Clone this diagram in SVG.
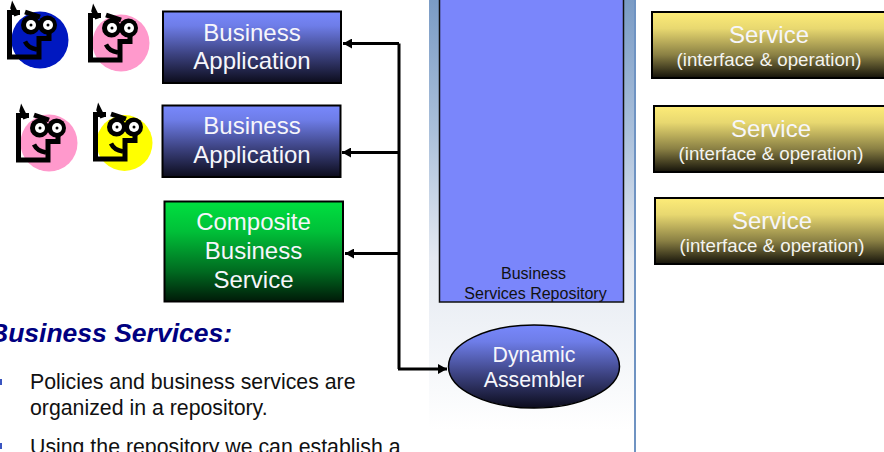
<svg xmlns="http://www.w3.org/2000/svg" xmlns:xlink="http://www.w3.org/1999/xlink" width="884" height="452" viewBox="0 0 884 452">
<style>
text{font-family:"Liberation Sans",Arial,sans-serif}
.w{fill:#f6f6fb;text-anchor:middle;font-size:24px}
.s{fill:#f4f4f0;text-anchor:middle;font-size:18.7px}
.b{fill:#111;font-size:21.300px}
.r{fill:#111;font-size:16px;text-anchor:middle}
.box{stroke:#000;stroke-width:2}
.c{fill:none;stroke:#000;stroke-width:3}
</style>
<defs>
<linearGradient id="blue" x1="0" y1="0" x2="0" y2="1"><stop offset="0" stop-color="#7888fc"/><stop offset=".2" stop-color="#6e7de8"/><stop offset=".6" stop-color="#3c4280"/><stop offset="1" stop-color="#0c0c1c"/></linearGradient>
<linearGradient id="green" x1="0" y1="0" x2="0" y2="1"><stop offset="0" stop-color="#00e040"/><stop offset=".3" stop-color="#00c038"/><stop offset=".7" stop-color="#006a20"/><stop offset="1" stop-color="#001a08"/></linearGradient>
<linearGradient id="yellow" x1="0" y1="0" x2="0" y2="1"><stop offset="0" stop-color="#fdec78"/><stop offset=".25" stop-color="#e8d870"/><stop offset=".65" stop-color="#8a8044"/><stop offset="1" stop-color="#14120a"/></linearGradient>
<linearGradient id="panel" gradientUnits="userSpaceOnUse" x1="0" y1="0" x2="0" y2="430"><stop offset="0" stop-color="#7a9bc5"/><stop offset=".3" stop-color="#a9bfda"/><stop offset=".6" stop-color="#e4e9f1"/><stop offset="1" stop-color="#ffffff"/></linearGradient>
<marker id="a" markerUnits="userSpaceOnUse" markerWidth="10" markerHeight="10" refX="9" refY="5" orient="auto"><path d="M0 0L9 5L0 10Z" fill="#000"/></marker>
<g id="face">
<path d="M12.500 4L17.500 14L15 15L11.500 8Z" fill="#000" stroke="#000" stroke-width="2.500"/>
<path d="M20 12.500H9.500V57H39V38.500H49V32" fill="none" stroke="#000" stroke-width="5"/>
<path d="M25 12L40 17" stroke="#000" stroke-width="5"/>
<path d="M25 41.500Q28 48 37 49.500" fill="none" stroke="#000" stroke-width="4.500"/>
<circle cx="30.500" cy="25" r="9.500" fill="#000"/><circle cx="47.500" cy="25" r="9.500" fill="#000"/>
<circle cx="31" cy="25" r="5" fill="#fff"/><circle cx="48" cy="25" r="5" fill="#fff"/>
<circle cx="31" cy="25" r="1.500" fill="#000"/><circle cx="48" cy="25" r="1.500" fill="#000"/>
</g>
</defs>
<rect width="884" height="452" fill="#fff"/>
<g id="panel-bg"><rect x="429" y="0" width="206" height="452" fill="url(#panel)"/><rect x="634" y="0" width="2" height="452" fill="#6f93c2"/></g>
<g id="repository"><rect x="439.500" y="-5" width="184" height="307" fill="#7a86fb" stroke="#111" stroke-width="1.500"/><text class="r" x="533.500" y="279">Business</text><text class="r" x="535.500" y="299">Services Repository</text></g>
<g id="user1"><circle cx="40" cy="40" r="28.500" fill="#0018c0"/><use href="#face"/></g>
<g id="user2"><circle cx="121" cy="43" r="28.500" fill="#ff99cc"/><use href="#face" x="81" y="3"/></g>
<g id="user3"><circle cx="49" cy="143" r="28.500" fill="#ff99cc"/><use href="#face" x="9" y="103"/></g>
<g id="user4"><circle cx="124.500" cy="143" r="28" fill="#ffff00"/><use href="#face" x="86" y="102"/></g>
<g id="app1"><rect class="box" x="163" y="11.500" width="178" height="71.500" fill="url(#blue)"/><text class="w" x="252" y="41">Business</text><text class="w" x="252" y="69">Application</text></g>
<g id="app2"><rect class="box" x="162.500" y="105.500" width="178" height="71.500" fill="url(#blue)"/><text class="w" x="252" y="134">Business</text><text class="w" x="252" y="163">Application</text></g>
<g id="composite"><rect class="box" x="164.500" y="201.500" width="178.500" height="100" fill="url(#green)"/><text class="w" x="253.500" y="230">Composite</text><text class="w" x="253.500" y="259">Business</text><text class="w" x="253.500" y="288">Service</text></g>
<g id="service1"><rect class="box" x="652" y="12" width="240" height="66" fill="url(#yellow)"/><text class="w" x="769" y="43">Service</text><text class="s" x="769" y="66">(interface &amp; operation)</text></g>
<g id="service2"><rect class="box" x="654" y="106" width="240" height="66" fill="url(#yellow)"/><text class="w" x="771" y="137">Service</text><text class="s" x="771" y="160">(interface &amp; operation)</text></g>
<g id="service3"><rect class="box" x="655" y="198" width="240" height="66" fill="url(#yellow)"/><text class="w" x="772" y="229">Service</text><text class="s" x="772" y="252">(interface &amp; operation)</text></g>
<g id="assembler"><ellipse cx="534" cy="366.500" rx="85.500" ry="41.500" fill="url(#blue)" stroke="#000" stroke-width="1.500"/><text class="w" x="534" y="362" style="font-size:21.300px">Dynamic</text><text class="w" x="534" y="387" style="font-size:21.300px">Assembler</text></g>
<g id="connectors">
<path class="c" d="M399 43.500V369"/>
<path class="c" d="M399 43.500H343" marker-end="url(#a)"/>
<path class="c" d="M399 152.500H342" marker-end="url(#a)"/>
<path class="c" d="M399 253.500H345" marker-end="url(#a)"/>
<path class="c" d="M398 369H447" marker-end="url(#a)"/>
</g>
<g id="notes">
<text x="-11" y="342" font-size="26.500" font-weight="bold" font-style="italic" fill="#000080">Business Services:</text>
<rect x="0" y="379" width="2" height="6" fill="#3a55c0"/>
<rect x="0" y="443" width="2" height="6" fill="#3a55c0"/>
<text class="b" x="30" y="389">Policies and business services are</text>
<text class="b" x="30" y="415">organized in a repository.</text>
<text class="b" x="30" y="454">Using the repository we can establish a</text>
</g>
</svg>
